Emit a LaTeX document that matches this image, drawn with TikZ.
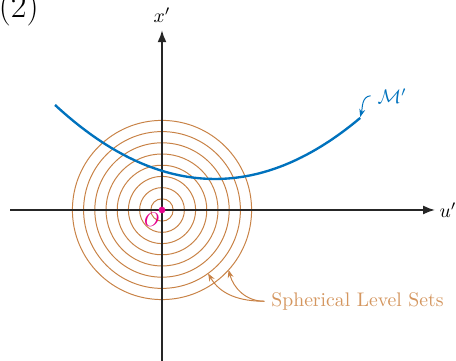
\documentclass[tikz,border=0pt]{standalone}
\usepackage{amsmath, amssymb}
\usetikzlibrary{arrows.meta, positioning}
\definecolor{levelBrown}  {RGB}{200,130, 70}
\definecolor{levelText}   {RGB}{212,150, 95}
\definecolor{manifoldBlue}{RGB}{  0,114,189}
\definecolor{originPink}  {RGB}{230,  0,140}

\begin{document}
\begin{tikzpicture}[
  %% Coordinate axis
  axis/.style={-{Latex[length=6pt,width=4.5pt]}, line width=0.8pt, black!85},
  %% Level set circle
  level/.style={levelBrown, line width=0.5pt},
  %% Thin label pointer
  pointer/.style={-{Stealth[length=4pt,width=3pt]}, line width=0.5pt},
]

\useasboundingbox (-2.893,-2.679) rectangle (5.25,3.75);

%% ── Sizes ───────────────────────────────────────────────────────────────────
\def\rStep{0.2}   % spacing of level sets
\def\aM{0.162}    % curvature of M'

%% ── PANEL TAG ───────────────────────────────────────────────────────────────
\node[anchor=base west, inner sep=0pt, font=\LARGE] (tag) at (-2.92,3.44) {(2)};

%% ── LEVEL SETS ──────────────────────────────────────────────────────────────
\coordinate (O) at (0,0);
\foreach \k in {1,...,8}
  \draw[level] (O) circle ({\k*\rStep});

%% ── AXES ────────────────────────────────────────────────────────────────────
\coordinate (uL) at (-2.71,0);
\coordinate (uR) at (4.875,0);
\coordinate (xB) at (0,-2.75);
\coordinate (xT) at (0,3.21);
\draw[axis] (uL) -- (uR) node[right=1pt, inner sep=1pt, black] (ulbl) {$u'$};
\draw[axis] (xB) -- (xT) node[above=0pt, black] (xlbl) {$x'$};

%% ── MANIFOLD M' ─────────────────────────────────────────────────────────────
\draw[manifoldBlue, line width=1.2pt]
  plot[domain=-1.91:3.54, samples=80] (\x, {\aM*(\x-0.946)^2+0.554});
\coordinate (Mend) at (3.54,1.66);

%% ── ORIGIN ──────────────────────────────────────────────────────────────────
\fill[originPink] (O) circle (0.06);
\node[text=originPink] (Olbl) at (-0.18,-0.17) {$O$};

%% ── LABELS ──────────────────────────────────────────────────────────────────
\node[text=manifoldBlue] (Mlbl) at (4.11,2.04) {$\mathcal{M}'$};
\draw[pointer, manifoldBlue]
  (Mlbl.west) to[out=185, in=75] (Mend);

\node[text=levelText, anchor=west] (Slbl) at (1.83,-1.63) {Spherical Level Sets};
\draw[pointer, levelBrown]
  (Slbl.west) to[out=180, in=-60] (-54:1.4);
\draw[pointer, levelBrown]
  (Slbl.west) to[out=180, in=-75] (-42:1.6);

\end{tikzpicture}
\end{document}
